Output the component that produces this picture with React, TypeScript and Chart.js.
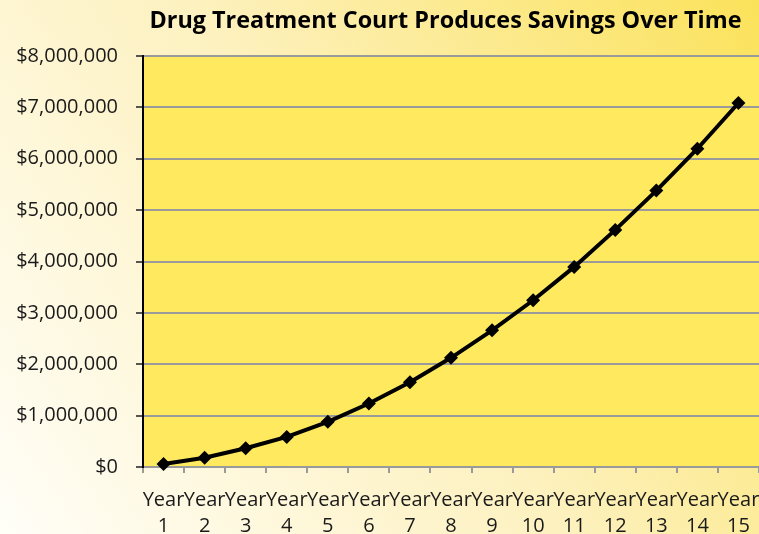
import React, { useEffect, useRef } from "react";
import { Chart, registerables } from "chart.js";

Chart.register(...registerables);

const TITLE = "Drug Treatment Court Produces Savings Over Time";
const years = ["1", "2", "3", "4", "5", "6", "7", "8", "9", "10", "11", "12", "13", "14", "15"];
const savings = [
  60000, 180000, 365000, 585000, 880000, 1235000, 1650000, 2125000,
  2660000, 3245000, 3895000, 4615000, 5380000, 6195000, 7085000,
];
const yMin = 0;
const yMax = 8000000;
const yStep = 1000000;

const FONT = "'Open Sans', 'DejaVu Sans', sans-serif";

const backdrop = {
  id: "backdrop",
  beforeDraw(chart: any) {
    const { ctx, width, height, chartArea } = chart;
    ctx.save();
    const g = ctx.createLinearGradient(0, height, width, 0);
    g.addColorStop(0, "#FFFEF8");
    g.addColorStop(0.5, "#FDF1BF");
    g.addColorStop(1, "#FBE25A");
    ctx.fillStyle = g;
    ctx.fillRect(0, 0, width, height);
    ctx.fillStyle = "#FEE95F";
    ctx.fillRect(chartArea.left, chartArea.top, chartArea.right - chartArea.left, chartArea.bottom - chartArea.top);
    ctx.restore();
  },
  afterDraw(chart: any) {
    const { ctx } = chart;
    ctx.save();
    ctx.font = `bold 23.4px ${FONT}`;
    ctx.fillStyle = "#000000";
    ctx.textAlign = "center";
    ctx.textBaseline = "middle";
    ctx.fillText(TITLE, 445.5, 21);
    ctx.restore();
  },
};

export default function App() {
  const ref = useRef<HTMLCanvasElement | null>(null);

  useEffect(() => {
    document.body.style.margin = "0";
    if (!ref.current) return;
    const chart = new Chart(ref.current, {
      type: "line",
      data: {
        labels: years.map((y) => ["Year", y]),
        datasets: [
          {
            data: savings,
            borderColor: "#000000",
            backgroundColor: "#000000",
            borderWidth: 4,
            pointStyle: "rectRot",
            pointRadius: 7,
            pointBorderWidth: 0,
            tension: 0,
            fill: false,
            clip: false,
          },
        ],
      },
      options: {
        responsive: false,
        animation: false,
        layout: { autoPadding: false, padding: { top: 56, right: 0, bottom: 0, left: 0 } },
        plugins: {
          legend: { display: false },
          title: { display: false },
          tooltip: { enabled: false },
        },
        scales: {
          x: {
            offset: true,
            afterFit: (s: any) => {
              s.height = 67;
              s.paddingLeft = 0;
              s.paddingRight = 0;
            },
            border: { color: "#9A9A9A", width: 2 },
            grid: {
              offset: true,
              drawOnChartArea: false,
              drawTicks: true,
              tickLength: 6,
              color: "#9A9A9A",
              lineWidth: 2,
            },
            ticks: {
              autoSkip: false,
              maxRotation: 0,
              minRotation: 0,
              padding: 14,
              color: "#1A1A1A",
              font: { family: FONT, size: 20, lineHeight: 1.3 },
            },
          },
          y: {
            min: yMin,
            max: yMax,
            afterFit: (s: any) => {
              s.width = 143;
            },
            border: { color: "#000000", width: 2 },
            grid: {
              color: "#9A9A9A",
              lineWidth: 2,
              tickLength: 7,
              tickColor: "#555555",
            },
            ticks: {
              stepSize: yStep,
              padding: 18,
              color: "#1A1A1A",
              font: { family: FONT, size: 20 },
              callback: (v: any) => "$" + Number(v).toLocaleString("en-US"),
            },
          },
        },
      },
      plugins: [backdrop],
    });
    return () => chart.destroy();
  }, []);

  return (
    <div style={{ width: 759, height: 534 }}>
      <canvas ref={ref} width={759} height={534} />
    </div>
  );
}
